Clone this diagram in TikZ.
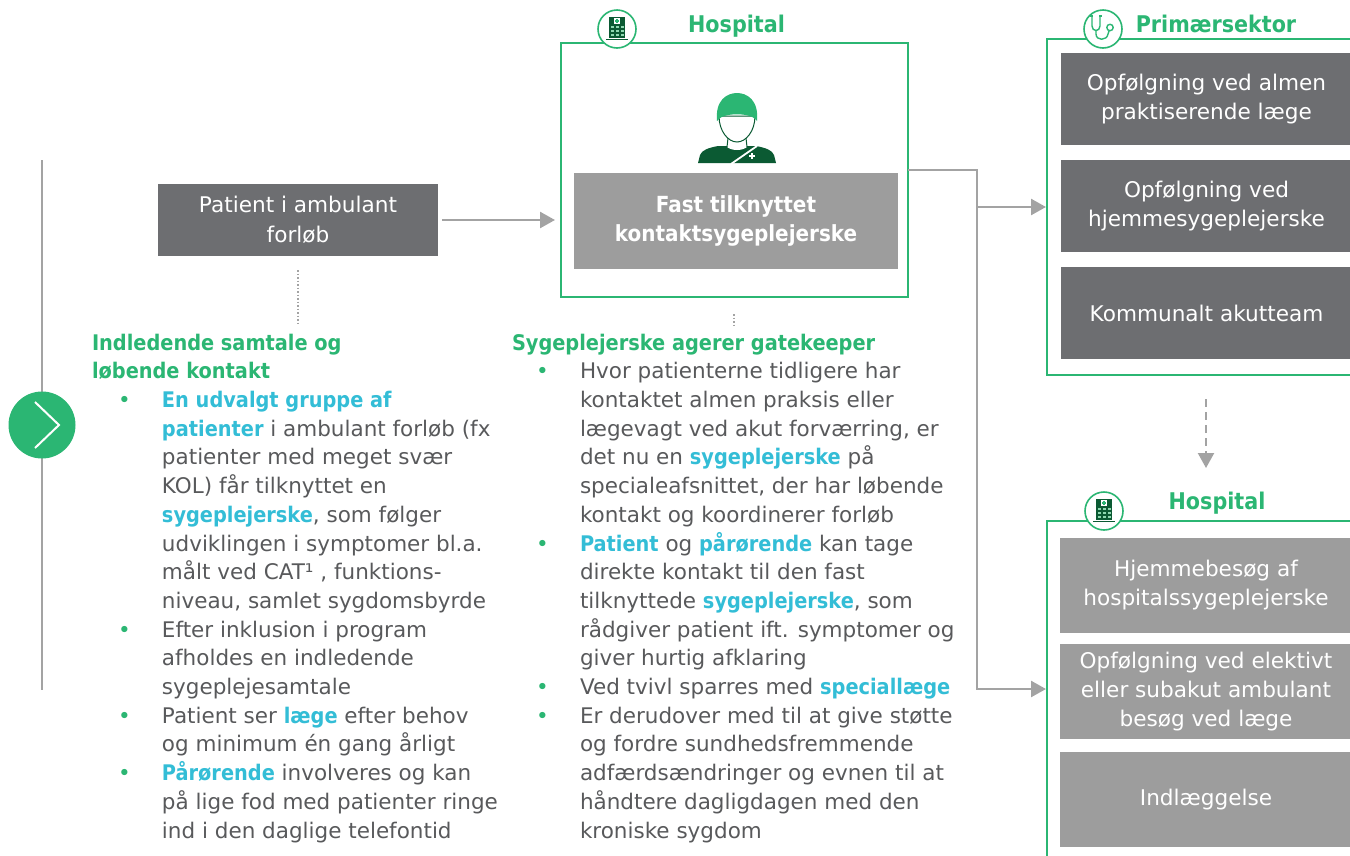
\documentclass[tikz,border=0pt]{standalone}
\usepackage{fontspec}
\setmainfont{DejaVu Sans}[BoldFont={DejaVu Sans Condensed Bold}]
\usetikzlibrary{arrows.meta}
\definecolor{grn}{HTML}{2BB673}
\definecolor{dgrn}{HTML}{0B5A33}
\definecolor{lgrn}{HTML}{8ED8B0}
\definecolor{cy}{HTML}{33BDD6}
\definecolor{txt}{HTML}{58595B}
\definecolor{dbox}{HTML}{6D6E71}
\definecolor{lbox}{HTML}{9D9D9D}
\definecolor{conn}{HTML}{A3A3A3}
\newcommand{\hlc}[1]{\textcolor{cy}{\textbf{#1}}}
\newcommand{\myhd}[1]{\textcolor{grn}{\textbf{#1}}}
\newcommand{\mybulA}{\hspace*{26pt}\makebox[44pt][l]{\textcolor{grn}{•}}}
\newcommand{\myindA}{\hspace*{70pt}}
\newcommand{\mybulB}{\hspace*{24pt}\makebox[44pt][l]{\textcolor{grn}{•}}}
\newcommand{\myindB}{\hspace*{68pt}}
\begin{document}
\begin{tikzpicture}[x=1pt,y=-1pt,
  every node/.style={inner sep=0pt,outer sep=0pt},
  bodytext/.style={text=txt,align=left,anchor=base west,font=\fontsize{21.5}{28.7}\selectfont},
  darkbox/.style={fill=dbox,text=white,align=center,font=\fontsize{21.6}{29.5}\selectfont},
  lightbox/.style={fill=lbox,text=white,align=center,font=\fontsize{21.6}{29}\selectfont},
  frame/.style={draw=grn,line width=2pt,fill=none},
  iconring/.style={circle,draw=grn,fill=white,line width=1.6pt,minimum size=38pt},
  title/.style={text=grn,font=\bfseries\fontsize{23}{28}\selectfont,anchor=base},
  connline/.style={draw=conn,line width=2.5pt},
  tipped/.style={-{Triangle[length=15pt,width=16pt]}}
]
\useasboundingbox (0,0) rectangle (1350,855);
\clip (0,0) rectangle (1350,855);

% left timeline
\coordinate (lt) at (42,160);
\coordinate (lb) at (42,690);
\draw[conn,line width=2pt] (lt) -- (lb);
\node[circle,fill=grn,minimum size=67pt] (go) at (42,425) {};
\draw[white,line width=2pt] (35,402) -- (59,425) -- (35,448);

% patient box
\node[darkbox,minimum width=280pt,minimum height=72pt] (pat) at (298,220) {Patient i ambulant\\forløb};

% hospital frame
\node[frame,minimum width=347pt,minimum height=254pt] (hosp) at (734.5,170) {};
\node[lightbox,minimum width=324pt,minimum height=96pt,font=\bfseries\fontsize{22.2}{29}\selectfont] (fast) at (736,221) {Fast tilknyttet\\kontaktsygeplejerske};
\node[title] (hosptitle) at (736.5,32) {Hospital};
\node[iconring] (hospicon) at (617,29) {};
\begin{scope}[shift={(617,29)}]
  \fill[dgrn] (-8,-12) rectangle (8,9);
  \fill[white] (-3,-11) rectangle (3,-5);
  \fill[grn] (-0.8,-10.3) rectangle (0.8,-5.7);
  \fill[grn] (-2.3,-8.8) rectangle (2.3,-7.2);
  \foreach \xx in {-6.5,-1.5,3.5} \foreach \yy in {-3.5,0.5,4.5} \fill[lgrn] (\xx,\yy) rectangle (\xx+3,\yy+2.5);
  \draw[dgrn,line width=1.6pt] (-11,10.5) -- (11,10.5);
\end{scope}

% nurse icon
\fill[dgrn] (698,163) -- (700,155) .. controls (702,150) and (708,148) .. (718,146) -- (756,146) .. controls (766,148) and (772,150) .. (774,155) -- (776,163) -- cycle;
\fill[white] (728,138) -- (746,138) -- (747,147) .. controls (742,151) and (732,151) .. (727,147) -- cycle;
\draw[dgrn,line width=1pt] (728,138) -- (727,147) (746,138) -- (747,147);
\filldraw[fill=white,draw=dgrn,line width=1pt] (719,116) .. controls (719,131) and (728,142) .. (737,142) .. controls (746,142) and (755,131) .. (755,116) -- cycle;
\fill[grn] (717,121) .. controls (715,100) and (727,93) .. (737,93) .. controls (747,93) and (759,100) .. (757,121) .. controls (752,112) and (722,112) .. (717,121) -- cycle;
\draw[white,line width=1.8pt] (757,146) -- (731,164);
\draw[white,line width=1.4pt] (749,156) -- (755,156) (752,153) -- (752,159);

% primary sector
\node[frame,minimum width=353pt,minimum height=336pt] (prim) at (1223.5,207) {};
\node[darkbox,minimum width=291pt,minimum height=92pt] (p1) at (1206.5,99) {Opfølgning ved almen\\praktiserende læge};
\node[darkbox,minimum width=291pt,minimum height=92pt] (p2) at (1206.5,206) {Opfølgning ved\\hjemmesygeplejerske};
\node[darkbox,minimum width=291pt,minimum height=92pt] (p3) at (1206.5,313) {Kommunalt akutteam};
\node[title] (primtitle) at (1216,32) {Primærsektor};
\node[iconring] (steth) at (1103,29) {};
\begin{scope}[shift={(1103,29)},grn,line width=1.4pt]
  \draw (-11,-13) -- (-11,-3) .. controls (-11,3) and (-3,3) .. (-3,-3) -- (-3,-13);
  \draw (-13,-13) -- (-10,-13) (-4,-13) -- (-1,-13);
  \draw (-7,1.5) -- (-7,5) .. controls (-7,12) and (4,12) .. (5,5) -- (6,2);
  \draw (7,-1.5) circle (3.2);
\end{scope}

% lower hospital
\node[frame,minimum width=353pt,minimum height=336pt] (hosp2) at (1223.5,689) {};
\node[lightbox,minimum width=292pt,minimum height=95pt] (h1) at (1206,585.5) {Hjemmebesøg af\\hospitalssygeplejerske};
\node[lightbox,minimum width=292pt,minimum height=95pt] (h2) at (1206,691.5) {Opfølgning ved elektivt\\eller subakut ambulant\\besøg ved læge};
\node[lightbox,minimum width=292pt,minimum height=95pt] (h3) at (1206,799.5) {Indlæggelse};
\node[title] (hosp2title) at (1217,509) {Hospital};
\node[iconring] (hosp2icon) at (1104,511) {};
\begin{scope}[shift={(1104,511)}]
  \fill[dgrn] (-8,-12) rectangle (8,9);
  \fill[white] (-3,-11) rectangle (3,-5);
  \fill[grn] (-0.8,-10.3) rectangle (0.8,-5.7);
  \fill[grn] (-2.3,-8.8) rectangle (2.3,-7.2);
  \foreach \xx in {-6.5,-1.5,3.5} \foreach \yy in {-3.5,0.5,4.5} \fill[lgrn] (\xx,\yy) rectangle (\xx+3,\yy+2.5);
  \draw[dgrn,line width=1.6pt] (-11,10.5) -- (11,10.5);
\end{scope}

% connectors
\draw[connline,tipped,shorten <=4pt,shorten >=6pt] (pat.east) -- (hosp.west |- pat.east);
\coordinate (j1) at (977,170);
\draw[connline,tipped,shorten >=1pt] (hosp.east) -- (j1) |- (hosp2.west);
\draw[connline,tipped,shorten >=1pt] (j1 |- prim.west) -- (prim.west);
\coordinate (d1) at (1206,399);
\coordinate (d2) at (1206,468);
\draw[connline,tipped,line width=2.2pt,dash pattern=on 8pt off 5pt] (d1) -- (d2);
\coordinate (dt1) at (298,270);
\coordinate (dt2) at (298,325);
\draw[conn,line width=1.5pt,dash pattern=on 1.5pt off 2pt] (dt1) -- (dt2);
\coordinate (dt3) at (734,314);
\coordinate (dt4) at (734,325);
\draw[conn,line width=1.5pt,dash pattern=on 1.5pt off 2pt] (dt3) -- (dt4);

% left text (anchored at the baseline of its last line)
\node[bodytext] (lefttext) at (92,838) {%
\myhd{Indledende samtale og}\\
\myhd{løbende kontakt}\\
\mybulA\hlc{En udvalgt gruppe af}\\
\myindA\hlc{patienter} i ambulant forløb (fx\\
\myindA patienter med meget svær\\
\myindA KOL) får tilknyttet en\\
\myindA\hlc{sygeplejerske}, som følger\\
\myindA udviklingen i symptomer bl.a.\\
\myindA målt ved CAT¹ , funktions-\\
\myindA niveau, samlet sygdomsbyrde\\
\mybulA Efter inklusion i program\\
\myindA afholdes en indledende\\
\myindA sygeplejesamtale\\
\mybulA Patient ser \hlc{læge} efter behov\\
\myindA og minimum én gang årligt\\
\mybulA\hlc{Pårørende} involveres og kan\\
\myindA på lige fod med patienter ringe\\
\myindA ind i den daglige telefontid};

% middle text
\node[bodytext] (midtext) at (512,838) {%
\myhd{Sygeplejerske agerer gatekeeper}\\
\mybulB Hvor patienterne tidligere har\\
\myindB kontaktet almen praksis eller\\
\myindB lægevagt ved akut forværring, er\\
\myindB det nu en \hlc{sygeplejerske} på\\
\myindB specialeafsnittet, der har løbende\\
\myindB kontakt og koordinerer forløb\\
\mybulB\hlc{Patient} og \hlc{pårørende} kan tage\\
\myindB direkte kontakt til den fast\\
\myindB tilknyttede \hlc{sygeplejerske}, som\\
\myindB rådgiver patient ift. symptomer og\\
\myindB giver hurtig afklaring\\
\mybulB Ved tvivl sparres med \hlc{speciallæge}\\
\mybulB Er derudover med til at give støtte\\
\myindB og fordre sundhedsfremmende\\
\myindB adfærdsændringer og evnen til at\\
\myindB håndtere dagligdagen med den\\
\myindB kroniske sygdom};
\end{tikzpicture}
\end{document}
